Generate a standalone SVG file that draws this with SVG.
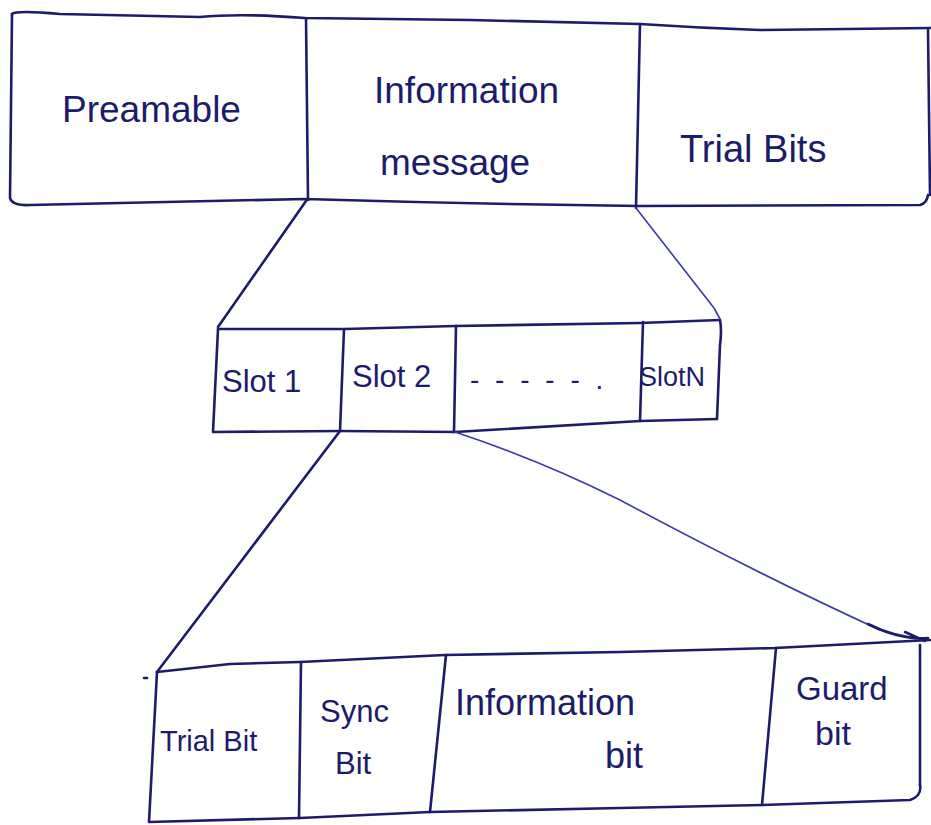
<svg xmlns="http://www.w3.org/2000/svg" width="931" height="825" viewBox="0 0 931 825">
  <style>
    .ink { fill: none; stroke: #1c1c6b; stroke-width: 2.6; stroke-linecap: round; stroke-linejoin: round; }
    .thin { fill: none; stroke: #3a3aa8; stroke-width: 1.6; stroke-linecap: round; }
    .lbl { font-family: "Liberation Sans", "DejaVu Sans", sans-serif; fill: #1c1c6b; }
  </style>
  <rect width="931" height="825" fill="#ffffff"/>

  <!-- Frame: preamble / information message / trial bits -->
  <g id="frame">
    <path class="ink" d="M12,14 Q16,10 60,14 L200,17 Q240,13 305,18 L470,20 L640,24 Q700,28 760,30 L931,28"/>
    <path class="ink" d="M12,14 L10,198 Q12,206 30,205 L305,199 Q470,204 640,206 L920,205 Q927,203 928,195"/>
    <path class="ink" d="M928,30 L930,195"/>
    <path class="ink" d="M306,18 L308,200"/>
    <path class="ink" d="M640,24 L636,208"/>
    <g id="preamble"><text class="lbl" x="62" y="122" font-size="37">Preamable</text></g>
    <g id="info-message">
      <text class="lbl" x="374" y="103" font-size="37">Information</text>
      <text class="lbl" x="380" y="175" font-size="37">message</text>
    </g>
    <g id="trial-bits"><text class="lbl" x="680" y="162" font-size="38">Trial Bits</text></g>
  </g>

  <!-- Slot row -->
  <g id="slots">
    <path class="ink" d="M218,329 L345,329 L455,326 L640,323 L720,320"/>
    <path class="ink" d="M218,329 L213,432 L340,431 L455,432 L640,421 L717,419"/>
    <path class="ink" d="M720,320 Q722,330 720,345 L717,419"/>
    <path class="ink" d="M344,329 L340,431"/>
    <path class="ink" d="M456,326 L454,432"/>
    <path class="ink" d="M643,322 L640,421"/>
    <g id="slot1"><text class="lbl" x="222" y="392" font-size="31">Slot 1</text></g>
    <g id="slot2"><text class="lbl" x="352" y="387" font-size="31">Slot 2</text></g>
    <g id="slot-gap"><text class="lbl" x="470" y="389" font-size="28" letter-spacing="4">- - - - - .</text></g>
    <g id="slotN"><text class="lbl" x="639" y="386" font-size="27">SlotN</text></g>
  </g>

  <!-- Slot structure -->
  <g id="slot-fields">
    <path class="ink" d="M157,672 L230,664 L300,662 L445,655 L620,652 L775,648 L930,640"/>
    <path class="ink" d="M157,672 L149,822 L300,818 L430,812 L620,808 L762,805 L910,800 Q922,796 920,785"/>
    <path class="ink" d="M920,645 L920,785"/>
    <path class="ink" d="M301,662 L299,818"/>
    <path class="ink" d="M446,655 L430,812"/>
    <path class="ink" d="M776,648 L762,805"/>
    <path class="ink" d="M144,678 L147,678"/>
    <g id="trial-bit"><text class="lbl" x="160" y="751" font-size="29">Trial Bit</text></g>
    <g id="sync-bit">
      <text class="lbl" x="320" y="722" font-size="31">Sync</text>
      <text class="lbl" x="335" y="774" font-size="31">Bit</text>
    </g>
    <g id="info-bit">
      <text class="lbl" x="455" y="715" font-size="36">Information</text>
      <text class="lbl" x="605" y="768" font-size="36">bit</text>
    </g>
    <g id="guard-bit">
      <text class="lbl" x="796" y="700" font-size="33">Guard</text>
      <text class="lbl" x="815" y="745" font-size="34">bit</text>
    </g>
  </g>

  <!-- Expansion connectors -->
  <g id="connectors">
    <path class="ink" d="M306,201 L218,327"/>
    <path class="thin" d="M636,208 L714,308 L720,319"/>
    <path class="ink" d="M340,431 L157,672"/>
    <path class="thin" d="M455,432 Q540,460 620,500 Q760,575 880,630"/>
    <path class="ink" d="M868,624 Q900,640 928,638 M905,632 L925,641"/>
  </g>
</svg>
